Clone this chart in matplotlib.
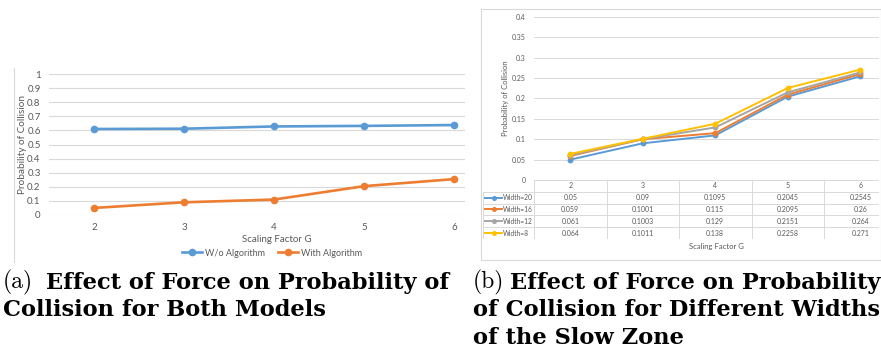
import numpy as np
import matplotlib
matplotlib.use("Agg")
import matplotlib.pyplot as plt
from matplotlib.lines import Line2D

# data
scale_g = [2, 3, 4, 5, 6]
wo_algo = [0.61, 0.612, 0.628, 0.632, 0.638]
with_algo = [0.05, 0.09, 0.1095, 0.2045, 0.2545]

width_names = ["Width=20", "Width=16", "Width=12", "Width=8"]
width_vals = [
    [0.05, 0.09, 0.1095, 0.2045, 0.2545],
    [0.059, 0.1001, 0.115, 0.2095, 0.26],
    [0.061, 0.1003, 0.129, 0.2151, 0.264],
    [0.064, 0.1011, 0.138, 0.2258, 0.271],
]
colors = ["#5B9BD5", "#ED7D31", "#A5A5A5", "#FFC000"]
txt = "#595959"
grid = "#D9D9D9"

W, H = 881, 350
fig = plt.figure(figsize=(W / 100, H / 100), dpi=100)
plt.rcParams['font.family'] = ['Lato', 'DejaVu Sans']

def box(x0, y0, x1, y1):
    # pixel box (top-left origin) -> figure fraction rect
    return [x0 / W, 1 - y1 / H, (x1 - x0) / W, (y1 - y0) / H]

# ---------- left chart ----------
ax1 = fig.add_axes(box(49, 74, 465, 215))
ax1.plot(scale_g, wo_algo, '-o', color=colors[0], lw=1.9, ms=4.5, label="W/o Algorithm")
ax1.plot(scale_g, with_algo, '-o', color=colors[1], lw=1.9, ms=4.5, label="With Algorithm")
ax1.set_xlim(1.5, 2 + (465 - 94) / 90)
ax1.set_ylim(0, 1)
ax1.set_yticks(np.arange(0, 1.01, 0.1))
ax1.set_yticklabels(["0"] + ["%.1f" % v for v in np.arange(0.1, 0.95, 0.1)] + ["1"])
ax1.set_xticks(scale_g)
ax1.grid(axis='y', color=grid, lw=0.8)
ax1.set_axisbelow(True)
for s in ax1.spines.values():
    s.set_visible(False)
ax1.tick_params(length=0, labelsize=7, colors=txt, pad=6)
ax1.tick_params(axis='x', pad=6)
ax1.set_ylabel("Probability of Collision", fontsize=7.2, color=txt)
ax1.yaxis.set_label_coords((27 - 49) / 416, 0.5)
fig.text(277 / W, 1 - 239 / H, "Scaling Factor G", fontsize=7, color=txt, ha='center', va='center')
fig.legend(*ax1.get_legend_handles_labels(), loc='center', bbox_to_anchor=(272 / W, 1 - 253 / H),
           ncol=2, frameon=False, fontsize=6.5, labelcolor=txt, handlelength=2.2,
           columnspacing=1.5, handletextpad=0.3, borderaxespad=0)
fig.add_artist(Line2D([14 / W, 14 / W], [1 - 68 / H, 1 - 262 / H], color=grid, lw=0.8))

# ---------- right chart ----------
fig.add_artist(plt.Rectangle((481 / W, 1 - 260 / H), 400 / W, 251 / H, fill=False,
                             ec=grid, lw=0.8))
cw = 72.5
xr = 1.5 + (879 - 534) / cw
ax2 = fig.add_axes(box(534, 17, 879, 180))
for name, vals, c in zip(width_names, width_vals, colors):
    ax2.plot(scale_g, vals, '-o', color=c, lw=1.4, ms=3.2, label=name)
ax2.set_xlim(1.5, xr)
ax2.set_ylim(0, 0.4)
ax2.set_yticks(np.arange(0, 0.41, 0.05))
ax2.set_yticklabels(["0", "0.05", "0.1", "0.15", "0.2", "0.25", "0.3", "0.35", "0.4"])
ax2.set_xticks([])
ax2.grid(axis='y', color=grid, lw=0.7)
ax2.set_axisbelow(True)
for s in ax2.spines.values():
    s.set_visible(False)
ax2.tick_params(length=0, labelsize=5, colors=txt, pad=6)
ax2.set_ylabel("Probability of Collision", fontsize=5.5, color=txt)
ax2.yaxis.set_label_coords((509 - 534) / 345, 0.5)

# data table under the plot
xl = 1.5 - 51 / cw
tb = fig.add_axes(box(483, 180, 879, 239))
tb.set_xlim(xl, 1.5 + (879 - 483) / cw - 51 / cw)
tb.set_ylim(5, 0)
tb.axis('off')
nrow = len(width_names) + 1
tb.plot([1.5, 7], [0, 0], color=grid, lw=0.7)
for r in range(1, nrow + 1):
    tb.plot([xl, 7], [r, r], color=grid, lw=0.7)
tb.plot([xl, xl], [1, nrow], color=grid, lw=0.7)
for i in range(len(scale_g) + 1):
    e = 1.5 + i
    tb.plot([e, e], [0, nrow], color=grid, lw=0.7)
for i, g in enumerate(scale_g):
    tb.text(g, 0.5, str(g), ha='center', va='center', fontsize=5, color=txt)
for r, (name, vals, c) in enumerate(zip(width_names, width_vals, colors), start=1):
    tb.plot([xl + 0.03, xl + 0.26], [r + 0.5, r + 0.5], color=c, lw=1.4)
    tb.plot([xl + 0.145], [r + 0.5], 'o', color=c, ms=2.6)
    tb.text(xl + 0.27, r + 0.5, name, ha='left', va='center', fontsize=4.8, color=txt)
    for g, v in zip(scale_g, vals):
        tb.text(g, r + 0.5, f"{v:g}", ha='center', va='center', fontsize=5, color=txt)
fig.text(716 / W, 1 - 246 / H, "Scaling Factor G", fontsize=5.5, color=txt, ha='center', va='center')

# ---------- captions ----------
cap_r = 17
cap_b = 16.2
bold = dict(fontfamily='DejaVu Serif', fontweight='bold', fontsize=cap_b, va='baseline')
fig.text(3 / W, 1 - 288.7 / H, "(a)", fontfamily='cmr10', fontsize=cap_r, va='baseline')
fig.text(46 / W, 1 - 288.7 / H, "Effect of Force on Probability of", **bold)
fig.text(3 / W, 1 - 316 / H, "Collision for Both Models", **bold)
fig.text(473 / W, 1 - 288.7 / H, "(b)", fontfamily='cmr10', fontsize=cap_r, va='baseline')
fig.text(510 / W, 1 - 288.7 / H, "Effect of Force on Probability", **bold)
fig.text(473 / W, 1 - 316 / H, "of Collision for Different Widths", **bold)
fig.text(473 / W, 1 - 343.7 / H, "of the Slow Zone", **bold)

fig.savefig("out.png", dpi=100)
